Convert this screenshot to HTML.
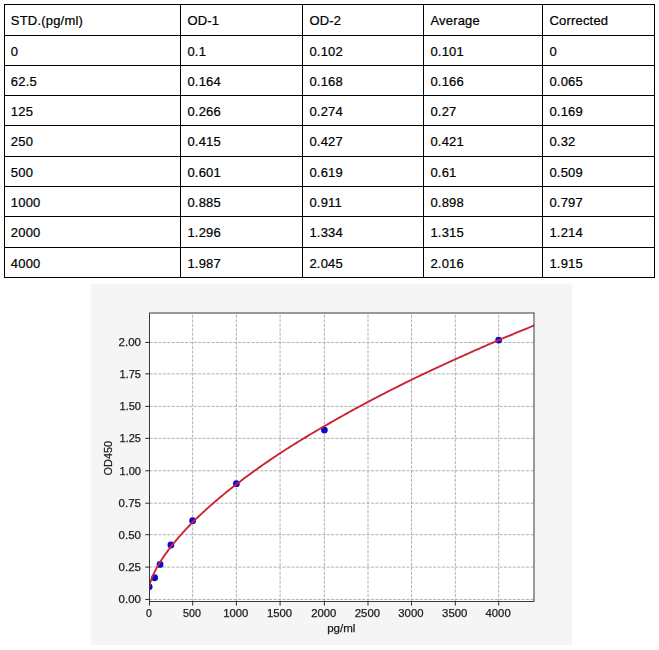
<!DOCTYPE html>
<html><head><meta charset="utf-8"><title>Standard curve</title>
<style>
html,body{margin:0;padding:0;background:#fff;}
body{width:659px;height:650px;position:relative;overflow:hidden;font-family:"Liberation Sans",sans-serif;}
.v{position:absolute;top:4px;width:1px;height:274px;background:#000;}
.h{position:absolute;left:4px;width:651px;height:1px;background:#000;}
.t{position:absolute;font-size:13.0px;line-height:20px;height:20px;color:#000;white-space:nowrap;letter-spacing:0.2px;-webkit-text-stroke:0.22px #000;}
</style></head><body>
<div class="v" style="left:4px"></div>
<div class="v" style="left:180px"></div>
<div class="v" style="left:302px"></div>
<div class="v" style="left:423px"></div>
<div class="v" style="left:542px"></div>
<div class="v" style="left:654px"></div>
<div class="h" style="top:4px"></div>
<div class="h" style="top:35px"></div>
<div class="h" style="top:65px"></div>
<div class="h" style="top:95px"></div>
<div class="h" style="top:125px"></div>
<div class="h" style="top:156px"></div>
<div class="h" style="top:186px"></div>
<div class="h" style="top:216px"></div>
<div class="h" style="top:247px"></div>
<div class="h" style="top:277px"></div>
<span class="t" style="left:10.8px;top:10.6px">STD.(pg/ml)</span>
<span class="t" style="left:187.4px;top:10.6px">OD-1</span>
<span class="t" style="left:309.4px;top:10.6px">OD-2</span>
<span class="t" style="left:430.4px;top:10.6px">Average</span>
<span class="t" style="left:549.4px;top:10.6px">Corrected</span>
<span class="t" style="left:10.8px;top:41.6px">0</span>
<span class="t" style="left:187.4px;top:41.6px">0.1</span>
<span class="t" style="left:309.4px;top:41.6px">0.102</span>
<span class="t" style="left:430.4px;top:41.6px">0.101</span>
<span class="t" style="left:549.4px;top:41.6px">0</span>
<span class="t" style="left:10.8px;top:71.6px">62.5</span>
<span class="t" style="left:187.4px;top:71.6px">0.164</span>
<span class="t" style="left:309.4px;top:71.6px">0.168</span>
<span class="t" style="left:430.4px;top:71.6px">0.166</span>
<span class="t" style="left:549.4px;top:71.6px">0.065</span>
<span class="t" style="left:10.8px;top:101.6px">125</span>
<span class="t" style="left:187.4px;top:101.6px">0.266</span>
<span class="t" style="left:309.4px;top:101.6px">0.274</span>
<span class="t" style="left:430.4px;top:101.6px">0.27</span>
<span class="t" style="left:549.4px;top:101.6px">0.169</span>
<span class="t" style="left:10.8px;top:131.6px">250</span>
<span class="t" style="left:187.4px;top:131.6px">0.415</span>
<span class="t" style="left:309.4px;top:131.6px">0.427</span>
<span class="t" style="left:430.4px;top:131.6px">0.421</span>
<span class="t" style="left:549.4px;top:131.6px">0.32</span>
<span class="t" style="left:10.8px;top:162.6px">500</span>
<span class="t" style="left:187.4px;top:162.6px">0.601</span>
<span class="t" style="left:309.4px;top:162.6px">0.619</span>
<span class="t" style="left:430.4px;top:162.6px">0.61</span>
<span class="t" style="left:549.4px;top:162.6px">0.509</span>
<span class="t" style="left:10.8px;top:192.6px">1000</span>
<span class="t" style="left:187.4px;top:192.6px">0.885</span>
<span class="t" style="left:309.4px;top:192.6px">0.911</span>
<span class="t" style="left:430.4px;top:192.6px">0.898</span>
<span class="t" style="left:549.4px;top:192.6px">0.797</span>
<span class="t" style="left:10.8px;top:222.6px">2000</span>
<span class="t" style="left:187.4px;top:222.6px">1.296</span>
<span class="t" style="left:309.4px;top:222.6px">1.334</span>
<span class="t" style="left:430.4px;top:222.6px">1.315</span>
<span class="t" style="left:549.4px;top:222.6px">1.214</span>
<span class="t" style="left:10.8px;top:253.6px">4000</span>
<span class="t" style="left:187.4px;top:253.6px">1.987</span>
<span class="t" style="left:309.4px;top:253.6px">2.045</span>
<span class="t" style="left:430.4px;top:253.6px">2.016</span>
<span class="t" style="left:549.4px;top:253.6px">1.915</span>
<svg width="481" height="361" viewBox="0 0 481 361" style="position:absolute;left:91px;top:284px;will-change:transform"><rect x="0" y="0" width="481" height="361" fill="#f5f5f5"/>
<rect x="58.5" y="29.0" width="384.5" height="288.5" fill="#ffffff"/>
<defs><clipPath id="ax"><rect x="58.50" y="29.00" width="384.50" height="288.50"/></clipPath></defs>
<g stroke="#a2a2a2" stroke-width="0.84" stroke-dasharray="3.09 1.34" fill="none" clip-path="url(#ax)"><line x1="58.50" x2="58.50" y1="317.5" y2="29.0"/><line x1="101.65" x2="101.65" y1="317.5" y2="29.0"/><line x1="145.40" x2="145.40" y1="317.5" y2="29.0"/><line x1="189.10" x2="189.10" y1="317.5" y2="29.0"/><line x1="233.40" x2="233.40" y1="317.5" y2="29.0"/><line x1="277.00" x2="277.00" y1="317.5" y2="29.0"/><line x1="320.50" x2="320.50" y1="317.5" y2="29.0"/><line x1="364.30" x2="364.30" y1="317.5" y2="29.0"/><line x1="407.70" x2="407.70" y1="317.5" y2="29.0"/><line y1="315.45" y2="315.45" x1="58.5" x2="443.0"/><line y1="283.10" y2="283.10" x1="58.5" x2="443.0"/><line y1="250.70" y2="250.70" x1="58.5" x2="443.0"/><line y1="219.20" y2="219.20" x1="58.5" x2="443.0"/><line y1="186.75" y2="186.75" x1="58.5" x2="443.0"/><line y1="154.35" y2="154.35" x1="58.5" x2="443.0"/><line y1="122.40" y2="122.40" x1="58.5" x2="443.0"/><line y1="89.85" y2="89.85" x1="58.5" x2="443.0"/><line y1="58.46" y2="58.46" x1="58.5" x2="443.0"/></g>
<g fill="#0a0ad2" clip-path="url(#ax)"><circle cx="58.20" cy="302.82" r="3.4"/><circle cx="63.63" cy="293.77" r="3.4"/><circle cx="69.06" cy="280.40" r="3.4"/><circle cx="79.93" cy="261.00" r="3.4"/><circle cx="101.65" cy="236.72" r="3.4"/><circle cx="145.40" cy="199.71" r="3.4"/><circle cx="233.40" cy="146.12" r="3.4"/><circle cx="407.70" cy="56.04" r="3.4"/></g>
<path d="M58.20,303.82 L58.35,302.49 L58.49,301.68 L58.64,300.99 L58.79,300.36 L58.94,299.79 L59.08,299.25 L59.23,298.73 L59.38,298.24 L59.53,297.77 L59.67,297.31 L59.82,296.87 L59.97,296.44 L60.11,296.02 L60.26,295.61 L60.41,295.21 L60.56,294.82 L60.70,294.44 L60.85,294.06 L61.00,293.69 L61.15,293.33 L61.29,292.97 L61.44,292.62 L61.59,292.27 L61.73,291.93 L61.88,291.59 L62.03,291.26 L62.18,290.93 L62.32,290.60 L62.47,290.28 L62.62,289.96 L62.77,289.64 L62.91,289.33 L63.06,289.02 L63.21,288.71 L63.36,288.41 L63.50,288.11 L63.65,287.81 L63.80,287.52 L63.94,287.22 L64.09,286.93 L64.24,286.64 L64.39,286.36 L64.53,286.07 L64.68,285.79 L64.83,285.51 L64.98,285.24 L65.12,284.96 L65.27,284.69 L65.42,284.41 L65.56,284.14 L65.71,283.87 L65.86,283.61 L66.01,283.34 L66.15,283.08 L66.30,282.82 L66.45,282.56 L66.60,282.30 L66.74,282.04 L66.89,281.78 L68.15,279.66 L69.40,277.61 L70.66,275.65 L71.91,273.74 L73.17,271.89 L74.42,270.10 L75.68,268.35 L76.93,266.64 L78.19,264.97 L79.45,263.33 L80.70,261.73 L81.96,260.16 L83.21,258.61 L84.47,257.09 L85.72,255.60 L86.98,254.13 L88.23,252.68 L89.49,251.25 L90.75,249.84 L92.00,248.46 L93.26,247.08 L94.51,245.73 L95.77,244.39 L97.02,243.07 L98.28,241.76 L99.53,240.47 L100.79,239.19 L102.05,237.93 L103.31,236.68 L104.58,235.44 L105.84,234.21 L107.10,232.99 L108.37,231.79 L109.63,230.59 L110.90,229.41 L112.16,228.24 L113.43,227.07 L114.69,225.92 L115.95,224.77 L117.22,223.64 L118.48,222.51 L119.75,221.40 L121.01,220.29 L122.28,219.19 L123.54,218.09 L124.80,217.01 L126.07,215.93 L127.33,214.86 L128.60,213.80 L129.86,212.74 L131.12,211.69 L132.39,210.65 L133.65,209.62 L134.92,208.59 L136.18,207.56 L137.45,206.55 L138.71,205.54 L139.97,204.53 L141.24,203.54 L142.50,202.54 L143.77,201.56 L145.03,200.58 L146.29,199.60 L147.56,198.63 L148.82,197.67 L150.08,196.71 L151.35,195.75 L152.61,194.80 L153.87,193.86 L155.13,192.92 L156.40,191.98 L157.66,191.05 L158.92,190.13 L160.18,189.21 L161.45,188.29 L162.71,187.38 L163.97,186.47 L165.24,185.57 L166.50,184.67 L167.76,183.77 L169.02,182.88 L170.29,181.99 L171.55,181.11 L172.81,180.23 L174.08,179.36 L175.34,178.49 L176.60,177.62 L177.86,176.75 L179.13,175.89 L180.39,175.04 L181.65,174.18 L182.91,173.33 L184.18,172.49 L185.44,171.65 L186.70,170.81 L187.97,169.97 L189.23,169.14 L190.51,168.31 L191.79,167.48 L193.07,166.66 L194.35,165.84 L195.63,165.02 L196.91,164.21 L198.19,163.40 L199.47,162.59 L200.75,161.79 L202.03,160.99 L203.31,160.19 L204.59,159.39 L205.87,158.60 L207.15,157.81 L208.43,157.02 L209.71,156.24 L210.99,155.46 L212.27,154.68 L213.55,153.90 L214.83,153.13 L216.11,152.36 L217.39,151.59 L218.67,150.82 L219.95,150.06 L221.23,149.30 L222.51,148.54 L223.79,147.78 L225.07,147.03 L226.35,146.28 L227.63,145.53 L228.91,144.79 L230.19,144.04 L231.47,143.30 L232.75,142.56 L234.02,141.82 L235.28,141.09 L236.54,140.36 L237.80,139.63 L239.06,138.90 L240.32,138.17 L241.58,137.45 L242.84,136.73 L244.10,136.01 L245.36,135.29 L246.62,134.58 L247.88,133.87 L249.14,133.15 L250.40,132.45 L251.66,131.74 L252.92,131.03 L254.18,130.33 L255.44,129.63 L256.70,128.93 L257.96,128.24 L259.22,127.54 L260.48,126.85 L261.74,126.16 L263.00,125.47 L264.26,124.78 L265.52,124.10 L266.78,123.41 L268.04,122.73 L269.30,122.05 L270.56,121.37 L271.82,120.70 L273.08,120.02 L274.34,119.35 L275.60,118.68 L276.86,118.01 L278.12,117.34 L279.37,116.68 L280.63,116.01 L281.89,115.35 L283.15,114.69 L284.40,114.03 L285.66,113.37 L286.92,112.72 L288.17,112.06 L289.43,111.41 L290.69,110.76 L291.94,110.11 L293.20,109.47 L294.46,108.82 L295.72,108.17 L296.97,107.53 L298.23,106.89 L299.49,106.25 L300.74,105.61 L302.00,104.98 L303.26,104.34 L304.51,103.71 L305.77,103.08 L307.03,102.44 L308.29,101.82 L309.54,101.19 L310.80,100.56 L312.06,99.94 L313.31,99.31 L314.57,98.69 L315.83,98.07 L317.08,97.45 L318.34,96.83 L319.60,96.22 L320.86,95.60 L322.12,94.99 L323.39,94.38 L324.65,93.77 L325.92,93.16 L327.19,92.55 L328.45,91.94 L329.72,91.33 L330.98,90.73 L332.25,90.13 L333.51,89.53 L334.78,88.93 L336.05,88.33 L337.31,87.73 L338.58,87.13 L339.84,86.54 L341.11,85.94 L342.37,85.35 L343.64,84.76 L344.90,84.17 L346.17,83.58 L347.44,82.99 L348.70,82.41 L349.97,81.82 L351.23,81.24 L352.50,80.65 L353.76,80.07 L355.03,79.49 L356.30,78.91 L357.56,78.33 L358.83,77.76 L360.09,77.18 L361.36,76.61 L362.62,76.03 L363.89,75.46 L365.15,74.89 L366.40,74.32 L367.66,73.75 L368.91,73.18 L370.16,72.61 L371.42,72.05 L372.67,71.48 L373.93,70.92 L375.18,70.36 L376.43,69.80 L377.69,69.24 L378.94,68.68 L380.20,68.12 L381.45,67.56 L382.71,67.00 L383.96,66.45 L385.21,65.90 L386.47,65.34 L387.72,64.79 L388.98,64.24 L390.23,63.69 L391.48,63.14 L392.74,62.59 L393.99,62.05 L395.25,61.50 L396.50,60.96 L397.75,60.41 L399.01,59.87 L400.26,59.33 L401.52,58.79 L402.77,58.25 L404.02,57.71 L405.28,57.17 L406.53,56.63 L407.79,56.10 L409.05,55.56 L410.31,55.03 L411.58,54.50 L412.84,53.96 L414.10,53.43 L415.36,52.90 L416.63,52.37 L417.89,51.84 L419.15,51.32 L420.41,50.79 L421.68,50.27 L422.94,49.74 L424.20,49.22 L425.46,48.69 L426.73,48.17 L427.99,47.65 L429.25,47.13 L430.51,46.61 L431.78,46.09 L433.04,45.57 L434.30,45.06 L435.56,44.54 L436.83,44.03 L438.09,43.51 L439.35,43.00 L440.61,42.49 L441.88,41.98 L443.14,41.47 L444.40,40.96" fill="none" stroke="#cc2230" stroke-width="1.85" clip-path="url(#ax)" stroke-linejoin="round"/>
<rect x="58.5" y="29.0" width="384.5" height="288.5" fill="none" stroke="#3a3a3a" stroke-width="1"/>
<g stroke="#2a2a2a" stroke-width="1"><line x1="58.50" x2="58.50" y1="317.5" y2="321.50"/><line x1="101.65" x2="101.65" y1="317.5" y2="321.50"/><line x1="145.40" x2="145.40" y1="317.5" y2="321.50"/><line x1="189.10" x2="189.10" y1="317.5" y2="321.50"/><line x1="233.40" x2="233.40" y1="317.5" y2="321.50"/><line x1="277.00" x2="277.00" y1="317.5" y2="321.50"/><line x1="320.50" x2="320.50" y1="317.5" y2="321.50"/><line x1="364.30" x2="364.30" y1="317.5" y2="321.50"/><line x1="407.70" x2="407.70" y1="317.5" y2="321.50"/><line y1="315.45" y2="315.45" x1="54.30" x2="58.5"/><line y1="283.10" y2="283.10" x1="54.30" x2="58.5"/><line y1="250.70" y2="250.70" x1="54.30" x2="58.5"/><line y1="219.20" y2="219.20" x1="54.30" x2="58.5"/><line y1="186.75" y2="186.75" x1="54.30" x2="58.5"/><line y1="154.35" y2="154.35" x1="54.30" x2="58.5"/><line y1="122.40" y2="122.40" x1="54.30" x2="58.5"/><line y1="89.85" y2="89.85" x1="54.30" x2="58.5"/><line y1="58.46" y2="58.46" x1="54.30" x2="58.5"/></g>
<g font-family="Liberation Sans, sans-serif" font-size="10.7" fill="#1c1c1c" stroke="#1c1c1c" stroke-width="0.25"><text x="57.90" y="332.9" text-anchor="middle" textLength="5.9" lengthAdjust="spacingAndGlyphs">0</text><text x="101.05" y="332.9" text-anchor="middle" textLength="17.9" lengthAdjust="spacingAndGlyphs">500</text><text x="144.80" y="332.9" text-anchor="middle" textLength="25.2" lengthAdjust="spacingAndGlyphs">1000</text><text x="188.50" y="332.9" text-anchor="middle" textLength="25.2" lengthAdjust="spacingAndGlyphs">1500</text><text x="232.80" y="332.9" text-anchor="middle" textLength="25.2" lengthAdjust="spacingAndGlyphs">2000</text><text x="276.40" y="332.9" text-anchor="middle" textLength="25.2" lengthAdjust="spacingAndGlyphs">2500</text><text x="319.90" y="332.9" text-anchor="middle" textLength="25.2" lengthAdjust="spacingAndGlyphs">3000</text><text x="363.70" y="332.9" text-anchor="middle" textLength="25.2" lengthAdjust="spacingAndGlyphs">3500</text><text x="407.10" y="332.9" text-anchor="middle" textLength="25.2" lengthAdjust="spacingAndGlyphs">4000</text><text x="50.0" y="319.30" text-anchor="end" textLength="22.4" lengthAdjust="spacingAndGlyphs">0.00</text><text x="50.0" y="286.95" text-anchor="end" textLength="22.4" lengthAdjust="spacingAndGlyphs">0.25</text><text x="50.0" y="254.55" text-anchor="end" textLength="22.4" lengthAdjust="spacingAndGlyphs">0.50</text><text x="50.0" y="223.05" text-anchor="end" textLength="22.4" lengthAdjust="spacingAndGlyphs">0.75</text><text x="50.0" y="190.60" text-anchor="end" textLength="21.5" lengthAdjust="spacingAndGlyphs">1.00</text><text x="50.0" y="158.20" text-anchor="end" textLength="21.5" lengthAdjust="spacingAndGlyphs">1.25</text><text x="50.0" y="126.25" text-anchor="end" textLength="21.5" lengthAdjust="spacingAndGlyphs">1.50</text><text x="50.0" y="93.70" text-anchor="end" textLength="21.5" lengthAdjust="spacingAndGlyphs">1.75</text><text x="50.0" y="62.31" text-anchor="end" textLength="22.4" lengthAdjust="spacingAndGlyphs">2.00</text><text x="250.3" y="347.6" text-anchor="middle" textLength="28.2" lengthAdjust="spacingAndGlyphs">pg/ml</text><text transform="translate(20.65,174.2) rotate(-90)" text-anchor="middle" textLength="34.5" lengthAdjust="spacingAndGlyphs">OD450</text></g></svg>
</body></html>
